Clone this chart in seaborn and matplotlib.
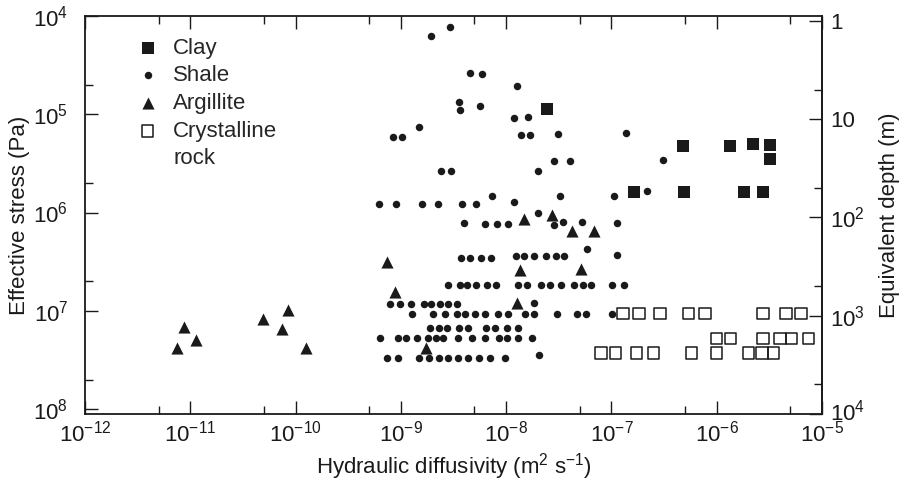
import numpy as np
import pandas as pd
import matplotlib
matplotlib.use("Agg")
import matplotlib.pyplot as plt
from matplotlib.lines import Line2D
from matplotlib.transforms import ScaledTranslation
import seaborn as sns

# values, stored as log10 (diffusivity m2/s, effective stress Pa)
clay_logd = [-7.61, -6.32, -5.87, -5.66, -5.49, -5.49, -6.79, -6.31, -5.74, -5.56]
clay_logs = [4.95, 5.32, 5.32, 5.30, 5.31, 5.46, 5.79, 5.79, 5.79, 5.79]

shale_logd = [
    -8.71, -8.53, -8.34, -8.23, -7.90, -8.45, -8.44, -8.25, -7.93, -7.79,
    -8.83, -9.07, -8.99, -7.86, -7.77, -7.51, -6.86, -8.62, -8.52, -7.70,
    -7.55, -7.39, -6.51, -6.66, -6.98, -7.49, -7.93, -8.13,
    -9.21, -9.05, -8.80, -8.65, -8.42, -8.29, -7.70,
    -8.40, -8.20, -8.09, -7.98, -7.55, -7.46, -7.28, -6.95, -7.23, -6.95,
    -8.43, -8.34, -8.24, -8.14, -7.91, -7.83, -7.74, -7.62, -7.53, -7.45,
    -8.55, -8.44, -8.37, -8.29, -8.18, -8.10, -7.89, -7.80, -7.67, -7.58,
    -7.48, -7.36, -7.27, -7.19, -6.99, -6.88,
    -9.10, -9.01, -8.90, -8.78, -8.71, -8.63, -8.55, -8.47, -7.74,
    -8.89, -8.69, -8.58, -8.47, -8.39, -8.30, -8.20, -8.08, -7.98, -7.82,
    -7.74, -7.52, -7.33, -7.24, -6.99,
    -8.72, -8.64, -8.56, -8.45, -8.36, -8.19, -8.11, -7.99, -7.89,
    -9.20, -9.03, -8.95, -8.85, -8.74, -8.67, -8.60, -8.46, -8.32, -8.20,
    -8.07, -7.99, -7.89, -7.75,
    -9.13, -9.03, -8.83, -8.73, -8.64, -8.55, -8.46, -8.36, -8.26, -8.15,
    -8.01, -7.69,
]
shale_logs = [
    4.20, 4.11, 4.58, 4.59, 4.71, 4.88, 4.96, 4.92, 5.04, 5.03,
    5.13, 5.23, 5.23, 5.21, 5.21, 5.20, 5.19, 5.58, 5.58, 5.58,
    5.48, 5.48, 5.47, 5.78, 5.83, 5.83, 5.89, 5.83,
    5.91, 5.91, 5.91, 5.91, 5.91, 5.91, 6.00,
    6.11, 6.12, 6.12, 6.12, 6.13, 6.10, 6.10, 6.11, 6.37, 6.43,
    6.46, 6.46, 6.46, 6.46, 6.44, 6.44, 6.44, 6.44, 6.44, 6.44,
    6.74, 6.74, 6.74, 6.74, 6.74, 6.74, 6.74, 6.74, 6.74, 6.74,
    6.74, 6.74, 6.74, 6.74, 6.74, 6.74,
    6.93, 6.93, 6.93, 6.93, 6.93, 6.93, 6.93, 6.93, 6.92,
    7.03, 7.03, 7.03, 7.03, 7.03, 7.03, 7.03, 7.03, 7.03, 7.03,
    7.03, 7.03, 7.03, 7.03, 7.03,
    7.17, 7.17, 7.17, 7.17, 7.17, 7.17, 7.17, 7.17, 7.17,
    7.28, 7.28, 7.28, 7.28, 7.28, 7.28, 7.28, 7.28, 7.28, 7.28,
    7.28, 7.28, 7.28, 7.28,
    7.48, 7.48, 7.48, 7.48, 7.48, 7.48, 7.48, 7.48, 7.48, 7.48,
    7.48, 7.45,
]

argillite_logd = [-11.06, -11.13, -10.95, -10.31, -10.07, -10.13, -9.90, -9.13, -9.06,
                  -8.76, -7.87, -7.90, -7.83, -7.56, -7.37, -7.17, -7.29]
argillite_logs = [7.16, 7.38, 7.30, 7.08, 6.99, 7.18, 7.38, 6.50, 6.81,
                  7.38, 6.58, 6.92, 6.07, 6.02, 6.19, 6.19, 6.57]

crystalline_logd = [-6.89, -6.74, -6.54, -6.27, -6.11, -5.56, -5.34, -5.20,
                    -6.00, -5.87, -5.56, -5.40, -5.29, -5.13,
                    -7.10, -6.96, -6.76, -6.60, -6.24, -6.00, -5.70, -5.57, -5.46]
crystalline_logs = [7.03] * 8 + [7.28] * 6 + [7.43] * 9

x_ticks = [1e-12, 1e-11, 1e-10, 1e-9, 1e-8, 1e-7, 1e-6, 1e-5]
y_ticks = [1e4, 1e5, 1e6, 1e7, 1e8]
depth_ticks = [1, 10, 100, 1000, 10000]
depth_labels = ['1', '10', '$10^2$', '$10^3$', '$10^4$']

pa_per_m = 10 ** 4.05

def frame(logd, logs):
    return pd.DataFrame({'D': np.power(10.0, logd), 'stress': np.power(10.0, logs)})

sns.set_style("ticks")
plt.rcParams['font.family'] = ['Liberation Sans', 'DejaVu Sans']
plt.rcParams['mathtext.default'] = 'regular'
plt.rcParams['font.size'] = 16
ink = '#1a1a1a'

fig = plt.figure(figsize=(9.02, 4.82), dpi=100)
ax = fig.add_axes([85 / 902, 68 / 482, 737 / 902, 398 / 482])

sns.scatterplot(data=frame(clay_logd, clay_logs), x='D', y='stress', marker='s', s=85,
                color=ink, edgecolor=ink, linewidth=0, label='Clay', ax=ax)
sns.scatterplot(data=frame(shale_logd, shale_logs), x='D', y='stress', marker='o', s=29,
                color=ink, edgecolor=ink, linewidth=0, label='Shale', ax=ax)
sns.scatterplot(data=frame(argillite_logd, argillite_logs), x='D', y='stress', marker='^', s=76,
                color=ink, edgecolor=ink, linewidth=0, label='Argillite', ax=ax)
sns.scatterplot(data=frame(crystalline_logd, crystalline_logs), x='D', y='stress', marker='s', s=68,
                facecolor='none', edgecolor=ink, linewidth=1.1, label='Crystalline', ax=ax)

ax.set_xscale('log')
ax.set_yscale('log')
ax.set_xlim(1e-12, 1e-5)
ax.set_ylim(10 ** 8.05, 1e4)

ax.set_xticks(x_ticks, labels=['$10^{%d}$' % int(np.log10(v)) for v in x_ticks])
ax.set_xticks([5 * v for v in x_ticks[:-1]], minor=True)
ax.set_yticks(y_ticks, labels=['$10^{%d}$' % int(np.log10(v)) for v in y_ticks])
ax.set_yticks([5 * v for v in y_ticks[:-1]], minor=True)
ax.xaxis.set_minor_formatter(plt.NullFormatter())
ax.yaxis.set_minor_formatter(plt.NullFormatter())

ax.tick_params(which='both', direction='in', top=True, right=False, color=ink, labelcolor=ink, width=1)
ax.tick_params(which='major', length=9.5)
ax.tick_params(which='minor', length=6)
ax.tick_params(axis='y', pad=12)
ax.tick_params(axis='x', pad=5)

sec = ax.secondary_yaxis('right', functions=(lambda s: s / pa_per_m, lambda d: d * pa_per_m))
sec.set_yticks(depth_ticks, labels=depth_labels)
sec.set_yticks([5 * v for v in depth_ticks[:-1]], minor=True)
sec.yaxis.set_minor_formatter(plt.NullFormatter())
sec.tick_params(which='both', direction='in', color=ink, labelcolor=ink, width=1, pad=6)
sec.tick_params(which='major', length=9.5)
sec.tick_params(which='minor', length=6)
sec.set_ylabel('Equivalent depth (m)', color=ink, labelpad=10)

# nudge the bottom depth label up a little so it clears the 10^-5 label
last = sec.get_yticklabels()[-1]
last.set_transform(last.get_transform() + ScaledTranslation(0, 3 / 72, fig.dpi_scale_trans))

for sp in list(ax.spines.values()) + list(sec.spines.values()):
    sp.set_color(ink)
    sp.set_linewidth(1.3)

ax.set_xlabel('Hydraulic diffusivity (m$^2$ s$^{-1}$)', color=ink, labelpad=3)
ax.set_ylabel('Effective stress (Pa)', color=ink, labelpad=2)

# second line of the crystalline label as a handle-less entry
handles, labels = ax.get_legend_handles_labels()
handles.append(Line2D([], [], linestyle='none'))
labels.append('rock')
ax.legend(handles, labels, loc='upper left', bbox_to_anchor=(0.055, 0.968), frameon=False,
          handletextpad=0.55, labelspacing=0.3, borderaxespad=0, handlelength=1.2)

fig.savefig('out.png', dpi=100)
